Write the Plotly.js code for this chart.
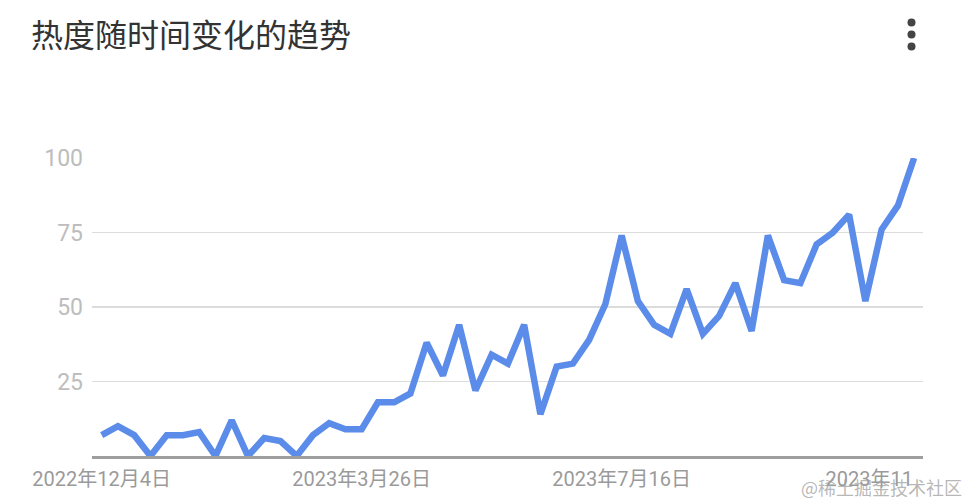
<!DOCTYPE html>
<html>
<head>
<meta charset="utf-8">
<script src="https://cdn.plot.ly/plotly-3.0.1.min.js"></script>
<style>
  html, body { margin: 0; padding: 0; background: #fff; }
  #chart { width: 969px; height: 503px; }
</style>
</head>
<body>
<div id="chart"></div>
<script>
// Weekly interest over time (relative scale, 100 = peak)
const weeks = [
  '2022-12-04', '2022-12-11', '2022-12-18', '2022-12-25',
  '2023-01-01', '2023-01-08', '2023-01-15', '2023-01-22', '2023-01-29',
  '2023-02-05', '2023-02-12', '2023-02-19', '2023-02-26',
  '2023-03-05', '2023-03-12', '2023-03-19', '2023-03-26',
  '2023-04-02', '2023-04-09', '2023-04-16', '2023-04-23', '2023-04-30',
  '2023-05-07', '2023-05-14', '2023-05-21', '2023-05-28',
  '2023-06-04', '2023-06-11', '2023-06-18', '2023-06-25',
  '2023-07-02', '2023-07-09', '2023-07-16', '2023-07-23', '2023-07-30',
  '2023-08-06', '2023-08-13', '2023-08-20', '2023-08-27',
  '2023-09-03', '2023-09-10', '2023-09-17', '2023-09-24',
  '2023-10-01', '2023-10-08', '2023-10-15', '2023-10-22', '2023-10-29',
  '2023-11-05', '2023-11-12', '2023-11-19'
];

const interest = [
  7, 10, 7, 0,
  7, 7, 8, 0, 12,
  0, 6, 5, 0,
  7, 11, 9, 9,
  18, 18, 21, 38, 27,
  44, 22, 34, 31,
  44, 14, 30, 31,
  39, 51, 74, 52, 44,
  41, 56, 41, 47,
  58, 42, 74, 59,
  58, 71, 75, 81, 52,
  76, 84, 100
];

const xTickDates  = ['2022-12-04', '2023-03-26', '2023-07-16', '2023-11-05'];
const xTickLabels = ['2022年12月4日', '2023年3月26日', '2023年7月16日',
                     '2023年11\u00a0\u00a0\u00a0\u00a0\u00a0'];

const yTickValues = [25, 50, 75, 100];
const yTickLabels = ['25', '50', '75', '100'];

const FONT = "Roboto, 'Noto Sans CJK SC', sans-serif";

const trace = {
  x: weeks,
  y: interest,
  type: 'scatter',
  mode: 'lines',
  line: { color: '#5b8ce9', width: 6.5, shape: 'linear' },
  hoverinfo: 'x+y'
};

// three-dot overflow menu in the top-right corner
const dotY = [22.5, 34.5, 46.5];
const menuDots = dotY.map(py => ({
  type: 'circle',
  xref: 'paper', yref: 'paper',
  xsizemode: 'pixel', ysizemode: 'pixel',
  xanchor: (911.5 - 92) / 831, yanchor: (458 - py) / 298 - 0.0067,
  x0: -4, x1: 4, y0: -4, y1: 4,
  fillcolor: '#444', line: { width: 0 }
}));

const layout = {
  width: 969,
  height: 503,
  margin: { l: 92, r: 46, t: 158, b: 47, pad: 0 },
  paper_bgcolor: '#ffffff',
  plot_bgcolor: '#ffffff',
  showlegend: false,
  font: { family: FONT, color: '#999' },
  title: {
    text: '热度随时间变化的趋势',
    font: { family: "'Noto Sans CJK SC', sans-serif", size: 32, color: '#333' },
    xref: 'container', yref: 'container',
    x: 31 / 969, xanchor: 'left',
    y: 1 - 36 / 503, yanchor: 'middle'
  },
  xaxis: {
    type: 'date',
    range: ['2022-11-29 19:40', '2023-11-22 20:00'],
    tickmode: 'array',
    tickvals: xTickDates,
    ticktext: xTickLabels,
    tickfont: { family: FONT, size: 20, color: '#9a9a9a' },
    ticks: '',
    ticklabelstandoff: 3,
    showgrid: false,
    zeroline: false,
    showline: true,
    linecolor: '#9e9e9e',
    linewidth: 2.5,
    fixedrange: true
  },
  yaxis: {
    range: [0, 100],
    tickmode: 'array',
    tickvals: yTickValues,
    ticktext: yTickLabels,
    tickfont: { family: FONT, size: 23, color: '#bdbdbd' },
    ticks: '',
    ticklabelstandoff: 8,
    showgrid: true,
    gridcolor: '#dcdcdc',
    gridwidth: 1.5,
    zeroline: false,
    showline: false,
    fixedrange: true
  },
  shapes: menuDots,
  annotations: [{
    text: '@稀土掘金技术社区',
    xref: 'paper', yref: 'paper',
    x: (964 - 92) / 831, xanchor: 'right',
    y: (456 - 487) / 298, yanchor: 'middle',
    showarrow: false,
    font: { family: "'Noto Sans CJK SC', sans-serif", size: 18, color: 'rgba(160,160,160,0.75)' }
  }]
};

Plotly.newPlot('chart', [trace], layout, { displayModeBar: false, staticPlot: true });
</script>
</body>
</html>
